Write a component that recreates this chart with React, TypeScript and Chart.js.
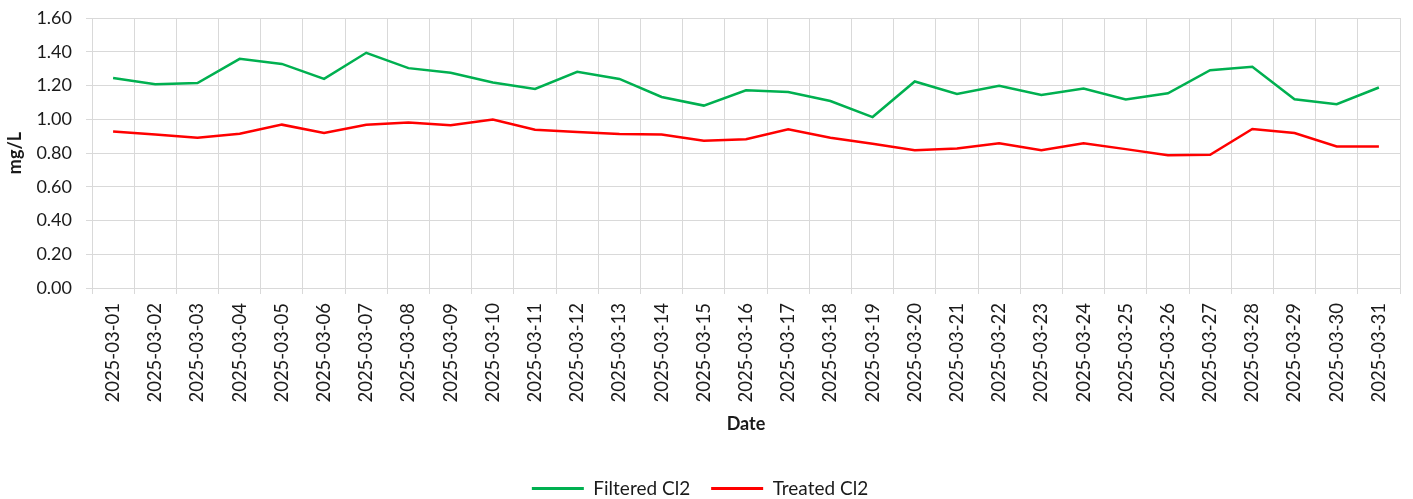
import React, { useEffect, useRef } from "react";
import { Chart, registerables } from "chart.js";

Chart.register(...registerables);

const dates = [
  "2025-03-01", "2025-03-02", "2025-03-03", "2025-03-04", "2025-03-05", "2025-03-06", "2025-03-07",
  "2025-03-08", "2025-03-09", "2025-03-10", "2025-03-11", "2025-03-12", "2025-03-13", "2025-03-14",
  "2025-03-15", "2025-03-16", "2025-03-17", "2025-03-18", "2025-03-19", "2025-03-20", "2025-03-21",
  "2025-03-22", "2025-03-23", "2025-03-24", "2025-03-25", "2025-03-26", "2025-03-27", "2025-03-28",
  "2025-03-29", "2025-03-30", "2025-03-31",
];

const filteredCl2 = [
  1.245, 1.208, 1.215, 1.358, 1.328, 1.239, 1.394, 1.303, 1.275, 1.218, 1.18, 1.281, 1.239, 1.132,
  1.081, 1.172, 1.162, 1.108, 1.013, 1.224, 1.15, 1.198, 1.144, 1.182, 1.117, 1.154, 1.291, 1.311,
  1.118, 1.089, 1.188,
];

const treatedCl2 = [
  0.928, 0.91, 0.891, 0.914, 0.968, 0.918, 0.968, 0.98, 0.964, 0.998, 0.938, 0.924, 0.912, 0.91,
  0.873, 0.882, 0.94, 0.89, 0.855, 0.817, 0.827, 0.857, 0.817, 0.858, 0.823, 0.787, 0.789, 0.942,
  0.918, 0.839, 0.839,
];

const FONT = "Lato, 'Open Sans', sans-serif";
const TEXT = "#1a1a1a";
const GRID = "#d9d9d9";

export default function App() {
  const ref = useRef<HTMLCanvasElement | null>(null);

  useEffect(() => {
    if (!ref.current) return;
    const chart = new Chart(ref.current, {
      type: "line",
      data: {
        labels: dates,
        datasets: [
          {
            label: "Filtered Cl2",
            data: filteredCl2,
            borderColor: "#00b050",
            backgroundColor: "#00b050",
            borderWidth: 2.5,
            pointRadius: 0,
            tension: 0,
          },
          {
            label: "Treated Cl2",
            data: treatedCl2,
            borderColor: "#ff0000",
            backgroundColor: "#ff0000",
            borderWidth: 2.5,
            pointRadius: 0,
            tension: 0,
          },
        ],
      },
      options: {
        animation: false,
        responsive: true,
        maintainAspectRatio: false,
        layout: { padding: { top: 18, right: 13, left: 0, bottom: -9 } },
        plugins: {
          tooltip: { enabled: false },
          legend: {
            position: "bottom",
            labels: {
              font: { family: FONT, size: 19 },
              color: TEXT,
              boxWidth: 52,
              boxHeight: 3,
              padding: 21,
              generateLabels: (c: any) =>
                Chart.defaults.plugins.legend.labels
                  .generateLabels(c)
                  .map((l: any) => ({ ...l, lineWidth: 0, fillStyle: l.strokeStyle })),
            },
          },
        },
        scales: {
          x: {
            offset: true,
            grid: { color: GRID, lineWidth: 1, offset: true, tickLength: 6, tickColor: GRID },
            border: { color: GRID },
            ticks: {
              autoSkip: false,
              maxRotation: 90,
              minRotation: 90,
              padding: 9,
              color: TEXT,
              font: { family: FONT, size: 18.5 },
            },
            title: {
              display: true,
              text: "Date",
              color: TEXT,
              font: { family: FONT, size: 18, weight: "bold" },
              padding: { top: 4, bottom: 23 },
            },
            afterFit: (s: any) => {
              s.height = 170;
              s.paddingLeft = 0;
              s.paddingRight = 0;
            },
          },
          y: {
            min: 0,
            max: 1.6,
            grid: { color: GRID, lineWidth: 1, tickLength: 6, tickColor: GRID },
            border: { display: false },
            ticks: {
              stepSize: 0.2,
              padding: 14,
              color: TEXT,
              font: { family: FONT, size: 18 },
              callback: (v: any) => Number(v).toFixed(2),
            },
            title: {
              display: true,
              text: "mg/L",
              color: TEXT,
              font: { family: FONT, size: 18, weight: "bold" },
              padding: { top: 4, bottom: 0 },
            },
            afterFit: (s: any) => {
              s.width = 92;
              s.paddingTop = 0;
              s.paddingBottom = 0;
            },
          },
        },
      },
    });
    return () => chart.destroy();
  }, []);

  return (
    <div style={{ position: "absolute", left: 0, top: 0, width: 1413, height: 499 }}>
      <canvas ref={ref} />
    </div>
  );
}
